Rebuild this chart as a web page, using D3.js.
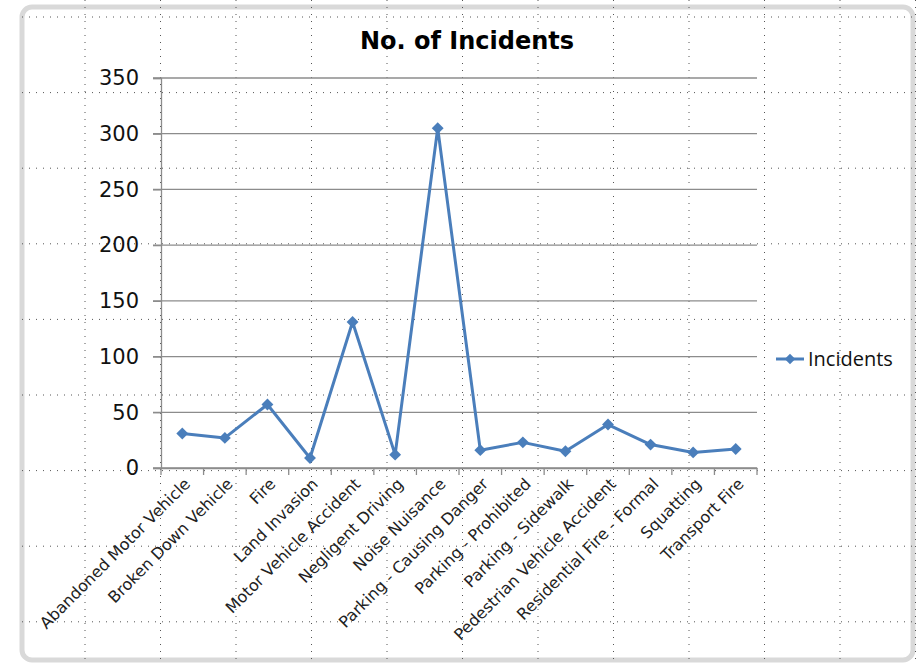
<!DOCTYPE html>
<html>
<head>
<meta charset="utf-8">
<script src="https://cdn.jsdelivr.net/npm/d3@7"></script>
<style>
body { margin: 0; background: #fff; }
</style>
</head>
<body>
<div id="svgDiv"></div>
<script>
var w = 919;
var h = 664;

var categories = ['Abandoned Motor Vehicle', 'Broken Down Vehicle', 'Fire', 'Land Invasion',
	'Motor Vehicle Accident', 'Negligent Driving', 'Noise Nuisance', 'Parking - Causing Danger',
	'Parking - Prohibited', 'Parking - Sidewalk', 'Pedestrian Vehicle Accident',
	'Residential Fire - Formal', 'Squatting', 'Transport Fire']
var incidents = [31, 27, 57, 9, 131, 12, 305, 16, 23, 15, 39, 21, 14, 17]
var yTicks = [0, 50, 100, 150, 200, 250, 300, 350]
var seriesName = 'Incidents'
var title = 'No. of Incidents'

var svg = d3.select("#svgDiv")
	.append("svg")
	.attr("width", w)
	.attr("height", h);

// chart frame
svg.append("rect")
	.attr("x", 22).attr("y", 7).attr("width", 891).attr("height", 653)
	.attr("rx", 10)
	.style("fill", "#fff")
	.style("stroke", "#d9d9d9")
	.style("stroke-width", 5)

// worksheet cell grid showing through the chart
var cellX = d3.range(85, w, 75.5)
var cellY = d3.range(17, h, 75.6)
svg.selectAll(".vcell")
	.data(cellX)
	.enter()
	.append("line")
	.attr("x1", d => d).attr("x2", d => d)
	.attr("y1", 0).attr("y2", h)
	.style("stroke", "#555")
	.style("stroke-width", 1)
	.style("stroke-dasharray", "1,6")
svg.selectAll(".hcell")
	.data(cellY)
	.enter()
	.append("line")
	.attr("y1", d => d).attr("y2", d => d)
	.attr("x1", 22).attr("x2", 915)
	.style("stroke", "#555")
	.style("stroke-width", 1)
	.style("stroke-dasharray", "1,6")

var x = d3.scaleBand()
	.domain(categories)
	.range([161, 757])

var y = d3.scaleLinear()
	.domain([0, 350])
	.range([468, 78])

// gridlines
svg.selectAll(".grid")
	.data(yTicks)
	.enter()
	.append("line")
	.attr("x1", 153).attr("x2", 757)
	.attr("y1", d => y(d)).attr("y2", d => y(d))
	.style("stroke", "#8c8c8c")
	.style("stroke-width", 1.3)

// y axis
var yAxis = svg.append("g")
	.attr("transform", "translate(161,0)")
	.call(d3.axisLeft(y).tickValues(yTicks).tickSize(8).tickPadding(14))
yAxis.select(".domain").style("stroke", "#8c8c8c").style("stroke-width", 1.3)
yAxis.selectAll(".tick line").style("stroke", "#8c8c8c").style("stroke-width", 1.3)
yAxis.selectAll("text")
	.style("font-family", "DejaVu Sans")
	.style("font-size", "21px")
	.style("fill", "#111")

// x axis
var xAxis = svg.append("g")
	.attr("transform", "translate(0,468)")
	.call(d3.axisBottom(x).tickSize(0).tickFormat(""))
xAxis.select(".domain").style("stroke", "#8c8c8c").style("stroke-width", 1.3)
svg.selectAll(".xtick")
	.data(categories.concat(["end"]))
	.enter()
	.append("line")
	.attr("x1", (d, i) => 161 + i * x.step())
	.attr("x2", (d, i) => 161 + i * x.step())
	.attr("y1", 468).attr("y2", 475)
	.style("stroke", "#8c8c8c")
	.style("stroke-width", 1.3)

svg.selectAll(".xlab")
	.data(categories)
	.enter()
	.append("text")
	.attr("transform", d => "translate(" + (x(d) + x.bandwidth() / 2 + 5) + ",481) rotate(-45)")
	.attr("text-anchor", "end")
	.attr("dy", "0.35em")
	.style("font-family", "DejaVu Sans")
	.style("font-size", "16px")
	.style("fill", "#222")
	.text(d => d)

// series line
var line = d3.line()
	.x((d, i) => x(categories[i]) + x.bandwidth() / 2)
	.y(d => y(d))

svg.append("path")
	.datum(incidents)
	.attr("d", line)
	.style("fill", "none")
	.style("stroke", "#4a7ebb")
	.style("stroke-width", 3)
	.style("stroke-linejoin", "round")

var diamond = d3.symbol().type(d3.symbolDiamond2).size(90)
svg.selectAll(".pt")
	.data(incidents)
	.enter()
	.append("path")
	.attr("d", diamond)
	.attr("transform", (d, i) => "translate(" + (x(categories[i]) + x.bandwidth() / 2) + "," + y(d) + ")")
	.style("fill", "#4a7ebb")

// title
svg.append("text")
	.attr("x", 467).attr("y", 49)
	.attr("text-anchor", "middle")
	.style("font-family", "DejaVu Sans")
	.style("font-weight", "bold")
	.style("font-size", "24px")
	.style("fill", "#000")
	.text(title)

// legend
var leg = svg.append("g").attr("transform", "translate(776,359)")
leg.append("line")
	.attr("x1", 0).attr("x2", 28)
	.style("stroke", "#4a7ebb")
	.style("stroke-width", 3)
leg.append("path")
	.attr("d", d3.symbol().type(d3.symbolDiamond2).size(70))
	.attr("transform", "translate(14,0)")
	.style("fill", "#4a7ebb")
leg.append("text")
	.attr("x", 32).attr("dy", "0.35em")
	.style("font-family", "Open Sans")
	.style("font-size", "20px")
	.style("fill", "#111")
	.text(seriesName)
</script>
</body>
</html>
